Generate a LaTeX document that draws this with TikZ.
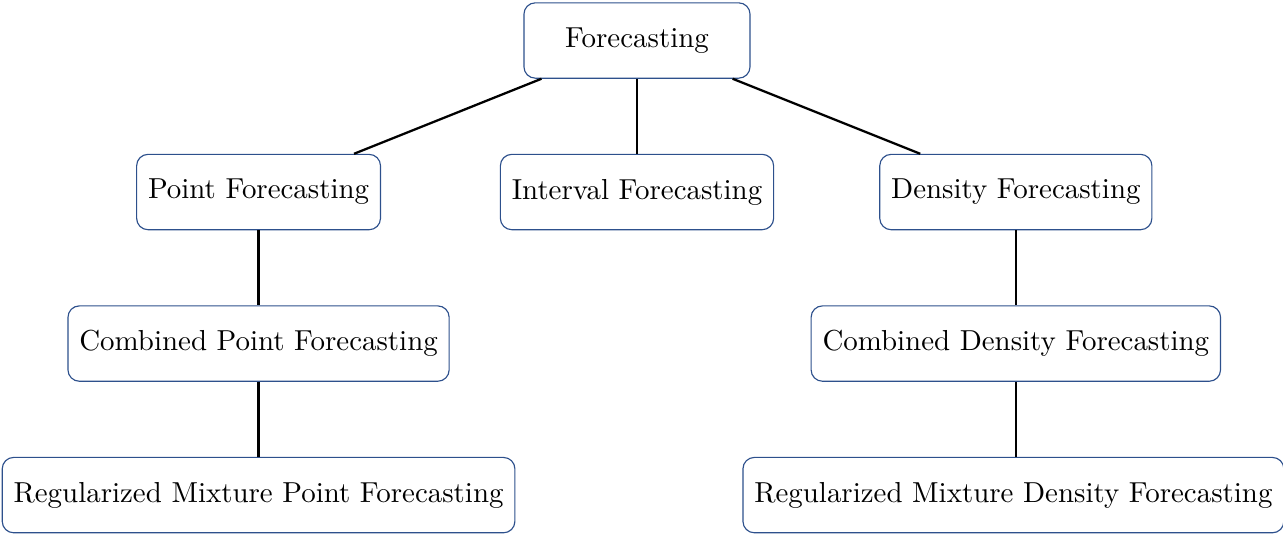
\documentclass[tikz,border=0pt]{standalone}
\definecolor{boxblue}{RGB}{45,80,140}
\begin{document}
\begin{tikzpicture}[box/.style = {draw = boxblue, rounded corners = 4pt, minimum height = 0.93cm, inner xsep = 4pt, font = \fontsize{10.15pt}{12pt}\selectfont}]
		\useasboundingbox (-7.861, 0.5) rectangle (7.972, -6.09);
		\node[box, minimum width = 2.79cm] (root) at (0, 0) {Forecasting};
		\node[box] (point) at (-4.67, -1.87) {Point Forecasting};
		\node[box] (interval) at (0, -1.87) {Interval Forecasting};
		\node[box] (density) at (4.675, -1.87) {Density Forecasting};
		%%%%%%%%%
		\node[box] (cpoint) at (-4.67, -3.74) {Combined Point Forecasting};
		\node[box] (cdensity) at (4.675, -3.74) {Combined Density Forecasting};
		%%%%%%%%%
		\node[box] (rpoint) at (-4.67, -5.61) {Regularized Mixture Point Forecasting};
		\node[box] (rdensity) at (4.645, -5.61) {Regularized Mixture Density Forecasting};
		%%%%%%%%%
		\draw[thick] (root) -- (point);
		\draw[thick] (root) -- (interval);
		\draw[thick] (root) -- (density);
		\draw[thick] (point) -- (cpoint);
		\draw[thick] (cpoint) -- (rpoint);
		\draw[thick] (density) -- (cdensity);
		\draw[thick] (cdensity) -- (cdensity |- rdensity.north);
	\end{tikzpicture}
\end{document}
